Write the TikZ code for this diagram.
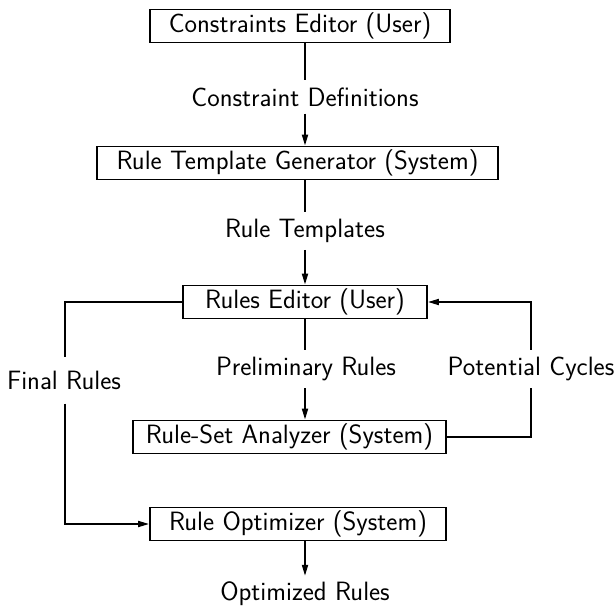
\documentclass[tikz,border=0pt]{standalone}
\usetikzlibrary{arrows.meta}
\begin{document}
\begin{tikzpicture}[x=1pt,y=-1pt,
  every node/.style={font=\sffamily\fontsize{26.5}{31}\selectfont},
  box/.style={draw,line width=1.8pt,inner sep=0pt,minimum height=33pt},
  lbl/.style={inner xsep=2pt,inner ysep=7pt},
  conn/.style={line width=1.8pt},
  arr/.style={conn,-{Triangle[length=11pt,width=6pt]}}]
\useasboundingbox (0,0) rectangle (615,607);
\node[box,minimum width=300pt] (ce) at (300,26) {Constraints Editor (User)};
\node[box,minimum width=401pt] (rtg) at (297.5,163) {Rule Template Generator (System)};
\node[box,minimum width=244pt] (re) at (305,302) {Rules Editor (User)};
\node[box,minimum width=313pt] (rsa) at (289.5,437) {Rule-Set Analyzer (System)};
\node[box,minimum width=296pt] (ro) at (298,524) {Rule Optimizer (System)};
\node[lbl] (cd) at (305,97) {Constraint Definitions};
\node[lbl] (rt) at (305,231) {Rule Templates};
\node[lbl] (pr) at (306,369) {Preliminary Rules};
\node[lbl] (pc) at (531,369) {Potential Cycles};
\node[lbl,inner ysep=14pt] (fr) at (64,380) {Final Rules};
\node[lbl,inner ysep=6pt] (or) at (305,594) {Optimized Rules};
\coordinate (x305) at (305,0);
\coordinate (x65) at (65,0);
\coordinate (x531) at (531,0);
\draw[conn] (ce.south -| x305) -- (cd.north -| x305);
\draw[arr] (cd.south -| x305) -- (rtg.north -| x305);
\draw[conn] (rtg.south -| x305) -- (rt.north -| x305);
\draw[arr] (rt.south -| x305) -- (re.north -| x305);
\draw[conn] (re.south -| x305) -- (pr.north -| x305);
\draw[arr] (pr.south -| x305) -- (rsa.north -| x305);
\draw[conn] (re.west) -| (fr.north -| x65);
\draw[arr] (fr.south -| x65) |- (ro.west);
\draw[conn] (rsa.east) -| (pc.south -| x531);
\draw[arr] (pc.north -| x531) |- (re.east);
\draw[arr] (ro.south -| x305) -- (or.north -| x305);
\end{tikzpicture}
\end{document}
